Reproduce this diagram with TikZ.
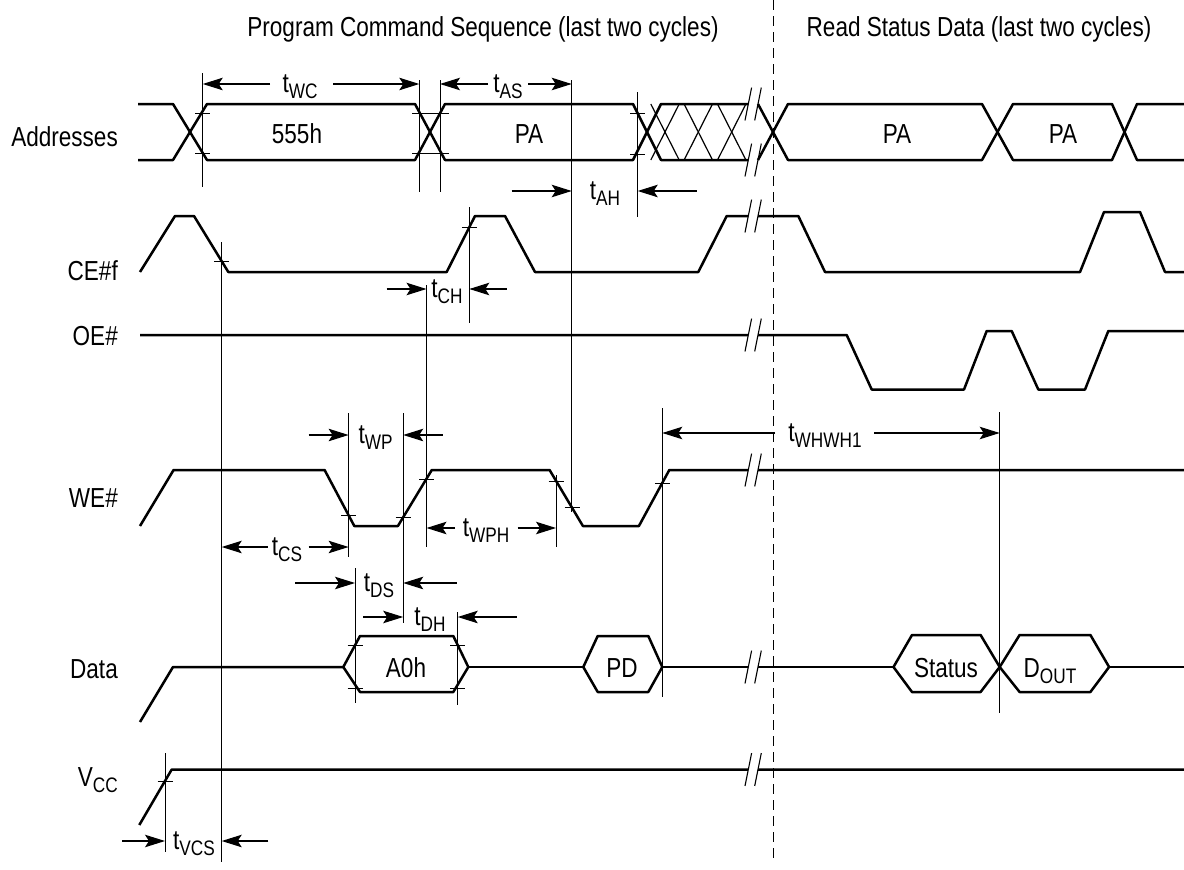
\documentclass[tikz,border=0pt]{standalone}
\usepackage{fontspec}
\setmainfont{Liberation Sans}[FakeStretch=0.82]
\usetikzlibrary{arrows.meta}
\newcommand{\tsb}[1]{t\raisebox{-6pt}{\fontsize{21}{21}\selectfont #1}}
\newcommand{\subtx}[2]{#1\raisebox{-6pt}{\fontsize{21}{21}\selectfont #2}}
\newcommand{\brkat}[2]{%
  \fill[white] ({#1-1.2},{#2+5}) -- ({#1+1.2},{#2-5}) -- ({#1+10.9},{#2-5}) -- ({#1+8.5},{#2+5}) -- cycle;
  \draw[brk] ({#1-3.3},{#2+16.4}) -- ({#1+3.3},{#2-16.4});
  \draw[brk] ({#1+6.4},{#2+16.4}) -- ({#1+13},{#2-16.4});}
\newcommand{\brkonly}[2]{%
  \draw[brk] ({#1-3.3},{#2+16.4}) -- ({#1+3.3},{#2-16.4});
  \draw[brk] ({#1+6.4},{#2+16.4}) -- ({#1+13},{#2-16.4});}
\newcommand{\tk}[2]{\draw[tickln] ({#1-7.5},#2) -- ({#1+7.5},#2);}
\begin{document}
\begin{tikzpicture}[x=1pt,y=-1pt,
  sig/.style={line width=2.5pt, line join=round},
  thin/.style={line width=1pt},
  tickln/.style={line width=1pt},
  brk/.style={line width=1.1pt},
  hatch/.style={line width=1.2pt},
  dimarr/.style={line width=1.1pt, -{Stealth[length=20pt,width=12.5pt,inset=4pt]}},
  txt/.style={font=\fontsize{27.5}{32}\selectfont, inner sep=0pt},
]
\useasboundingbox (0,0) rectangle (1184,870);

% ---------- headings ----------
\node[txt, anchor=base] (hProg) at (483,36) {Program Command Sequence (last two cycles)};
\node[txt, anchor=base] (hRead) at (979,36) {Read Status Data (last two cycles)};

% ---------- signal labels ----------
\node[txt, anchor=base east] (lAddr) at (118,146) {Addresses};
\node[txt, anchor=base east] (lCE) at (118,280) {CE\#f};
\node[txt, anchor=base east] (lOE) at (118,345) {OE\#};
\node[txt, anchor=base east] (lWE) at (118,507) {WE\#};
\node[txt, anchor=base east] (lData) at (118,678) {Data};
\node[txt, anchor=base east] (lVcc) at (118,786) {\subtx{V}{CC}};

% ---------- Addresses ----------
\foreach \c in {665,698.3,731.7} {
  \draw[hatch] ({\c-14.2},104) -- ({\c+14.2},160);
  \draw[hatch] ({\c-14.2},160) -- ({\c+14.2},104);
}
\draw[sig] (138,104) -- (173,104) -- (207,160) -- (415,160) -- (445,104) -- (633,104) -- (661,160) -- (748,160);
\draw[sig] (138,160) -- (173,160) -- (207,104) -- (415,104) -- (445,160) -- (633,160) -- (661,104) -- (748,104);
\draw[sig] (758,104) -- (788,160) -- (982,160) -- (1013,104) -- (1112,104) -- (1137,160) -- (1184,160);
\draw[sig] (758,160) -- (788,104) -- (982,104) -- (1013,160) -- (1112,160) -- (1137,104) -- (1184,104);
\brkonly{748.3}{104}
\brkonly{748.3}{160}
\node[txt, anchor=base] (a555) at (297,143) {555h};
\node[txt, anchor=base] (aPA1) at (529,143) {PA};
\node[txt, anchor=base] (aPA2) at (897,143) {PA};
\node[txt, anchor=base] (aPA3) at (1063,143) {PA};

% ---------- CE#f ----------
\draw[sig] (140,272) -- (175,216) -- (194,216) -- (228.3,272) -- (446.7,272) -- (475,216) -- (505,216) -- (535,272) -- (698.3,272) -- (726.7,216) -- (798.3,216) -- (825,272) -- (1080,272) -- (1104,212) -- (1140,212) -- (1165,272) -- (1184,272);
\brkat{748.3}{216}

% ---------- OE# ----------
\draw[sig] (140,335) -- (846.7,335) -- (871.7,389.5) -- (964,389.5) -- (986.7,331) -- (1011.7,331) -- (1038.3,389.5) -- (1085,389.5) -- (1108.3,331) -- (1184,331);
\brkat{748.3}{335}

% ---------- WE# ----------
\draw[sig] (140,526) -- (173.6,470) -- (324.6,470) -- (354.3,526) -- (397.9,526) -- (431.8,470) -- (549.6,470) -- (582.9,526) -- (638.9,526) -- (669.3,470) -- (1184,470);
\brkat{748.3}{470}

% ---------- Data ----------
\draw[sig] (140,722) -- (173,667) -- (343.3,667);
\draw[sig] (343.3,667) -- (360,636) -- (453.3,636) -- (468.3,667) -- (453.3,692) -- (360,692) -- cycle;
\draw[sig] (468.3,667) -- (583.3,667);
\draw[sig] (583.3,667) -- (597.7,636) -- (648.3,636) -- (662.3,667) -- (648.3,692) -- (597.7,692) -- cycle;
\draw[sig] (662.3,667) -- (893.5,667);
\draw[sig] (893.5,667) -- (912,635) -- (980.6,635) -- (999.7,667) -- (980.6,692) -- (912,692) -- cycle;
\draw[sig] (999.7,667) -- (1019.6,635) -- (1090.4,635) -- (1109.1,667) -- (1090.4,692) -- (1019.6,692) -- cycle;
\draw[sig] (1109.1,667) -- (1184,667);
\brkat{748.3}{667}
\node[txt, anchor=base] (dA0) at (406,677) {A0h};
\node[txt, anchor=base] (dPD) at (622,677) {PD};
\node[txt, anchor=base] (dSt) at (946,677) {Status};
\node[txt, anchor=base] (dOut) at (1050,677) {\subtx{D}{OUT}};

% ---------- VCC ----------
\draw[sig] (139.3,825) -- (171.7,769.5) -- (1184,769.5);
\brkat{748.3}{769.5}

% ---------- reference lines ----------
\draw[thin] (202.7,73) -- (202.7,187);
\draw[thin] (419.3,80) -- (419.3,192);
\draw[thin] (440,80) -- (440,192);
\draw[thin] (571.7,80) -- (571.7,512);
\draw[thin] (637.7,92) -- (637.7,217);
\draw[thin] (221.7,242) -- (221.7,862);
\draw[thin] (469.3,207) -- (469.3,323);
\draw[thin] (426.5,285) -- (426.5,547);
\draw[thin] (348.6,413) -- (348.6,557);
\draw[thin] (403.2,413) -- (403.2,623);
\draw[thin] (355,568) -- (355,703);
\draw[thin] (457.7,612) -- (457.7,705);
\draw[thin] (556,475) -- (556,547);
\draw[thin] (662.3,408) -- (662.3,697);
\draw[thin] (999.7,412) -- (999.7,713);
\draw[thin] (165,753) -- (165,852);
\draw[thin, dash pattern=on 10pt off 6pt] (773,0) -- (773,862);

% ---------- ticks ----------
\tk{202.7}{113} \tk{202.7}{153}
\draw[tickln] (412,113) -- (449,113);
\draw[tickln] (412,153) -- (449,153);
\tk{637.7}{113} \tk{637.7}{154}
\tk{221.7}{261} \tk{469.3}{227}
\tk{348.6}{515.5} \tk{403.2}{517} \tk{426.5}{479.5}
\tk{556}{481} \tk{572}{507.7} \tk{662.3}{483}
\tk{355}{645} \tk{355}{688} \tk{457.7}{645} \tk{457.7}{688}
\tk{165}{781}

% ---------- dimensions ----------
% tWC
\draw[dimarr] (270,84) -- (202.7,84);
\draw[dimarr] (333,84) -- (419.3,84);
\node[txt, anchor=base] (twc) at (300,92) {\tsb{WC}};
% tAS
\draw[dimarr] (488,84) -- (440,84);
\draw[dimarr] (528,84) -- (571.7,84);
\node[txt, anchor=base] (tas) at (508,92) {\tsb{AS}};
% tAH
\draw[dimarr] (511.7,191) -- (571.7,191);
\draw[dimarr] (696.7,191) -- (637.7,191);
\node[txt, anchor=base] (tah) at (605,199) {\tsb{AH}};
% tCH
\draw[dimarr] (386.7,289) -- (426.5,289);
\draw[dimarr] (506.7,289) -- (469.3,289);
\node[txt, anchor=base] (tch) at (447,297) {\tsb{CH}};
% tWP
\draw[dimarr] (308.6,435) -- (348.6,435);
\draw[dimarr] (442.5,435) -- (403.2,435);
\node[txt, anchor=base] (twp) at (375.5,443) {\tsb{WP}};
% tCS
\draw[dimarr] (267.5,547) -- (221.7,547);
\draw[dimarr] (308.6,547) -- (348.6,547);
\node[txt, anchor=base] (tcs) at (287,555) {\tsb{CS}};
% tWPH
\draw[dimarr] (455,528) -- (426.5,528);
\draw[dimarr] (517.5,528) -- (556,528);
\node[txt, anchor=base] (twph) at (486,536) {\tsb{WPH}};
% tDS
\draw[dimarr] (295,583) -- (355,583);
\draw[dimarr] (456.8,583) -- (403.2,583);
\node[txt, anchor=base] (tds) at (379,591) {\tsb{DS}};
% tDH
\draw[dimarr] (363.3,617) -- (403.2,617);
\draw[dimarr] (516.7,617) -- (457.7,617);
\node[txt, anchor=base] (tdh) at (430,625) {\tsb{DH}};
% tWHWH1
\draw[dimarr] (775,433) -- (662.3,433);
\draw[dimarr] (874.4,433) -- (999.7,433);
\node[txt, anchor=base] (twhwh) at (825,441) {\tsb{WHWH1}};
% tVCS
\draw[dimarr] (122,841) -- (165,841);
\draw[dimarr] (268.3,841) -- (221.7,841);
\node[txt, anchor=base] (tvcs) at (194,849) {\tsb{VCS}};
\end{tikzpicture}
\end{document}
